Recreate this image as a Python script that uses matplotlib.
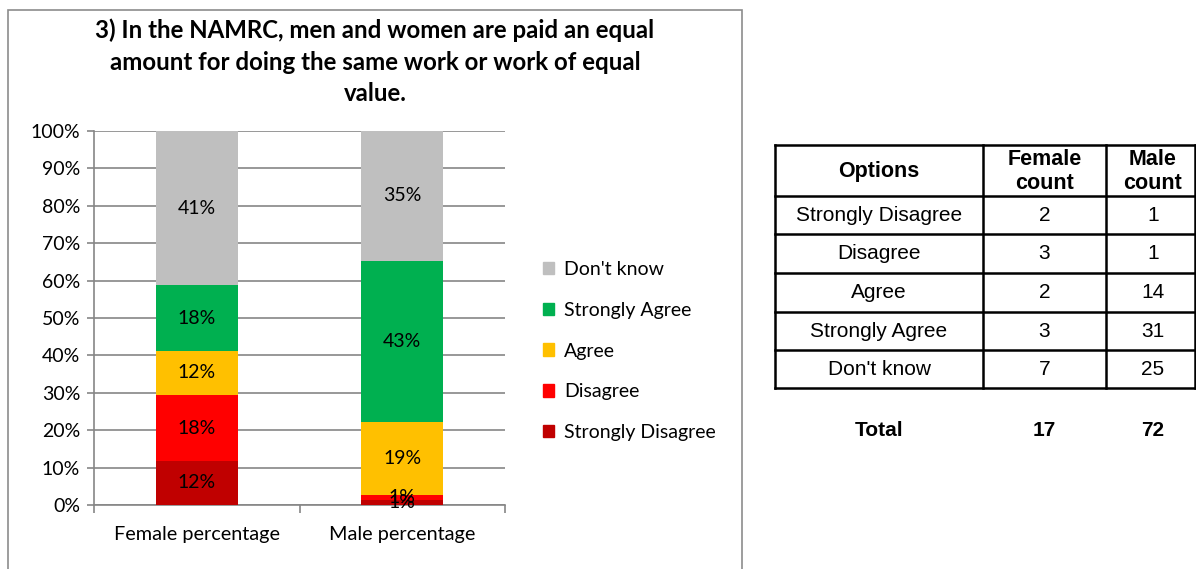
import numpy as np
import matplotlib
matplotlib.use("Agg")
import matplotlib.pyplot as plt
from matplotlib.patches import Rectangle, Patch

# dati
options = ["Strongly Disagree", "Disagree", "Agree", "Strongly Agree", "Don't know"]
female_count = [2, 3, 2, 3, 7]
male_count = [1, 1, 14, 31, 25]
groups = ["Female percentage", "Male percentage"]
colori = ["#C00000", "#FF0000", "#FFC000", "#00B050", "#BFBFBF"]
titolo = "3) In the NAMRC, men and women are paid an equal\namount for doing the same work or work of equal\nvalue."

W, H = 1196, 569
fig = plt.figure(figsize=(W / 100, H / 100), dpi=100)
fig.patch.set_facecolor("white")

# cornice del grafico
fig.patches.append(Rectangle((8 / W, -0.05), 734 / W, 1 - 10 / H + 0.05,
                             transform=fig.transFigure, fill=False,
                             edgecolor="#8c8c8c", linewidth=1.2))

ax = fig.add_axes([94 / W, 1 - 505 / H, 411 / W, 374 / H])
conteggi = np.array([female_count, male_count], dtype=float)
perc = conteggi / conteggi.sum(axis=1, keepdims=True) * 100
x = np.arange(len(groups))
base = np.zeros(len(groups))
for i, opt in enumerate(options):
    ax.bar(x, perc[:, i], bottom=base, width=0.4, color=colori[i], label=opt, zorder=3)
    for j in range(len(groups)):
        ax.text(x[j], base[j] + perc[j, i] / 2, "{:.0f}%".format(perc[j, i]),
                ha="center", va="center", fontsize=14, family="Lato", zorder=4)
    base += perc[:, i]

ax.set_xlim(-0.5, 1.5)
ax.set_ylim(0, 100)
ax.set_yticks(np.arange(0, 101, 10))
ax.set_yticklabels(["{}%".format(v) for v in range(0, 101, 10)], family="Lato", fontsize=14)
ax.set_xticks(x)
ax.set_xticklabels(groups, family="Lato", fontsize=14.3)
ax.set_xticks([-0.5, 0.5, 1.5], minor=True)
ax.tick_params(axis="x", which="major", length=0, pad=15)
ax.tick_params(axis="x", which="minor", length=6, color="#868686", width=1.2)
ax.tick_params(axis="y", length=5, color="#868686", width=1.2, pad=5)
ax.grid(axis="y", color="#868686", linewidth=1.2, zorder=0)
for s in ["top", "right"]:
    ax.spines[s].set_visible(False)
ax.spines["left"].set_color("#868686")
ax.spines["bottom"].set_color("#868686")
ax.spines["left"].set_linewidth(1.2)
ax.spines["bottom"].set_linewidth(1.2)

fig.text(375 / W, 1 - 18 / H, titolo, ha="center", va="top", family="Lato",
         fontweight="bold", fontsize=17.3, linespacing=1.47)

handles = [Patch(color=colori[i]) for i in range(len(options))][::-1]
fig.legend(handles, options[::-1], loc="center left", bbox_to_anchor=(525 / W, 1 - 351 / H),
           frameon=False, prop={"family": "Lato", "size": 14}, handlelength=0.6,
           handleheight=0.6, handletextpad=0.5, labelspacing=1.22)

# tabella
tab = fig.add_axes([0, 0, 1, 1], zorder=-1)
tab.set_xlim(0, W)
tab.set_ylim(H, 0)
tab.axis("off")
cx = [775, 983, 1106, 1195]
ry = [145, 196, 234, 273, 312, 350, 388]
for xx in cx:
    tab.plot([xx, xx], [ry[0], ry[-1]], color="black", lw=1.8)
for yy in ry:
    tab.plot([cx[0], cx[-1]], [yy, yy], color="black", lw=1.8)
centri = [(cx[k] + cx[k + 1]) / 2 for k in range(3)]
centri[2] = 1153
intest = ["Options", "Female\ncount", "Male\ncount"]
for k in range(3):
    tab.text(centri[k], (ry[0] + ry[1]) / 2 + 1, intest[k], ha="center", va="center",
             family="Liberation Sans", fontweight="bold", fontsize=15.5, linespacing=1.2)
for r in range(len(options)):
    yc = (ry[r + 1] + ry[r + 2]) / 2
    valori = [options[r], str(female_count[r]), str(male_count[r])]
    for k in range(3):
        tab.text(centri[k], yc, valori[k], ha="center", va="center",
                 family="Liberation Sans", fontsize=15)
totali = ["Total", str(sum(female_count)), str(sum(male_count))]
for k in range(3):
    tab.text(centri[k], 430, totali[k], ha="center", va="center",
             family="Liberation Sans", fontweight="bold", fontsize=15)

plt.savefig("out.png", dpi=100)
